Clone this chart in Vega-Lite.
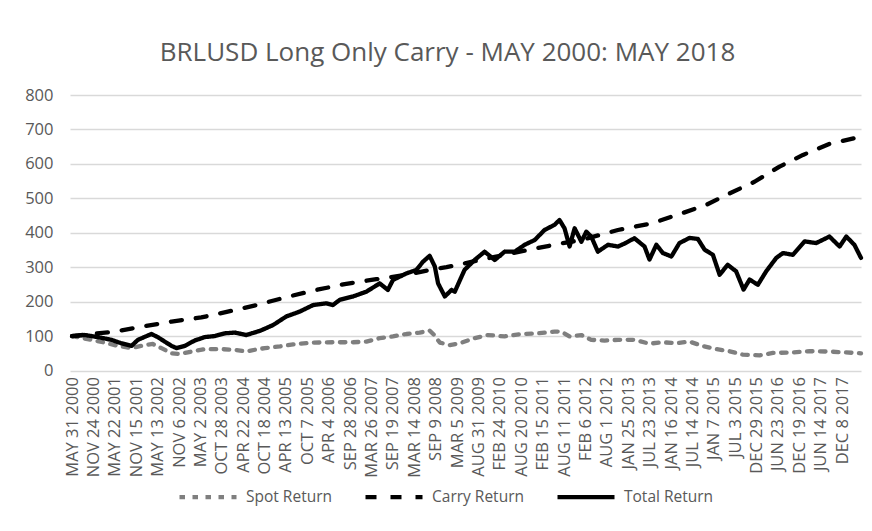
{
  "$schema": "https://vega.github.io/schema/vega-lite/v6.json",
  "width": 791,
  "height": 275.5,
  "autosize": "none",
  "padding": {"left": 70, "top": 95, "right": 11, "bottom": 160.5},
  "background": "white",
  "title": {"text": "BRLUSD Long Only Carry - MAY 2000: MAY 2018", "font": "Open Sans", "fontSize": 26, "fontWeight": "normal", "color": "#595959", "anchor": "middle", "frame": "group", "dx": -18, "offset": 21},
  "data": {"values": [
    {"d": "2000-05-31", "s": "Spot Return", "v": 100},
    {"d": "2000-11-10", "s": "Spot Return", "v": 89},
    {"d": "2001-02-28", "s": "Spot Return", "v": 81},
    {"d": "2001-06-15", "s": "Spot Return", "v": 71.5},
    {"d": "2001-10-07", "s": "Spot Return", "v": 65},
    {"d": "2002-01-27", "s": "Spot Return", "v": 74},
    {"d": "2002-04-02", "s": "Spot Return", "v": 77},
    {"d": "2002-06-13", "s": "Spot Return", "v": 65},
    {"d": "2002-09-05", "s": "Spot Return", "v": 50},
    {"d": "2002-11-13", "s": "Spot Return", "v": 48},
    {"d": "2003-02-19", "s": "Spot Return", "v": 55},
    {"d": "2003-06-08", "s": "Spot Return", "v": 62},
    {"d": "2003-10-25", "s": "Spot Return", "v": 62},
    {"d": "2004-02-13", "s": "Spot Return", "v": 60},
    {"d": "2004-05-19", "s": "Spot Return", "v": 55},
    {"d": "2004-08-22", "s": "Spot Return", "v": 62},
    {"d": "2004-10-20", "s": "Spot Return", "v": 65},
    {"d": "2005-02-22", "s": "Spot Return", "v": 70},
    {"d": "2005-06-11", "s": "Spot Return", "v": 76},
    {"d": "2005-11-24", "s": "Spot Return", "v": 81},
    {"d": "2006-05-08", "s": "Spot Return", "v": 82},
    {"d": "2006-10-22", "s": "Spot Return", "v": 82},
    {"d": "2007-02-11", "s": "Spot Return", "v": 84},
    {"d": "2007-06-01", "s": "Spot Return", "v": 94},
    {"d": "2007-09-19", "s": "Spot Return", "v": 99},
    {"d": "2008-01-09", "s": "Spot Return", "v": 106},
    {"d": "2008-04-28", "s": "Spot Return", "v": 110},
    {"d": "2008-07-20", "s": "Spot Return", "v": 116},
    {"d": "2008-09-01", "s": "Spot Return", "v": 101},
    {"d": "2008-10-12", "s": "Spot Return", "v": 81},
    {"d": "2009-01-04", "s": "Spot Return", "v": 74},
    {"d": "2009-03-26", "s": "Spot Return", "v": 79},
    {"d": "2009-07-29", "s": "Spot Return", "v": 94},
    {"d": "2009-11-17", "s": "Spot Return", "v": 103},
    {"d": "2010-04-04", "s": "Spot Return", "v": 99},
    {"d": "2010-08-21", "s": "Spot Return", "v": 106},
    {"d": "2011-01-07", "s": "Spot Return", "v": 108},
    {"d": "2011-05-24", "s": "Spot Return", "v": 113},
    {"d": "2011-07-18", "s": "Spot Return", "v": 113},
    {"d": "2011-09-26", "s": "Spot Return", "v": 99},
    {"d": "2012-01-02", "s": "Spot Return", "v": 103},
    {"d": "2012-03-24", "s": "Spot Return", "v": 89},
    {"d": "2012-07-13", "s": "Spot Return", "v": 87},
    {"d": "2012-11-01", "s": "Spot Return", "v": 89},
    {"d": "2013-03-18", "s": "Spot Return", "v": 89},
    {"d": "2013-07-21", "s": "Spot Return", "v": 78},
    {"d": "2013-11-10", "s": "Spot Return", "v": 82},
    {"d": "2014-03-01", "s": "Spot Return", "v": 79},
    {"d": "2014-06-19", "s": "Spot Return", "v": 84},
    {"d": "2014-10-08", "s": "Spot Return", "v": 71},
    {"d": "2015-01-28", "s": "Spot Return", "v": 62},
    {"d": "2015-05-16", "s": "Spot Return", "v": 56},
    {"d": "2015-09-05", "s": "Spot Return", "v": 46},
    {"d": "2016-01-22", "s": "Spot Return", "v": 44},
    {"d": "2016-05-11", "s": "Spot Return", "v": 51},
    {"d": "2016-09-28", "s": "Spot Return", "v": 52},
    {"d": "2017-03-12", "s": "Spot Return", "v": 56},
    {"d": "2017-08-25", "s": "Spot Return", "v": 55},
    {"d": "2017-12-14", "s": "Spot Return", "v": 53},
    {"d": "2018-05-14", "s": "Spot Return", "v": 50},
    {"d": "2000-05-31", "s": "Carry Return", "v": 100},
    {"d": "2001-05-20", "s": "Carry Return", "v": 113},
    {"d": "2001-12-30", "s": "Carry Return", "v": 127},
    {"d": "2002-09-05", "s": "Carry Return", "v": 142},
    {"d": "2003-05-10", "s": "Carry Return", "v": 154},
    {"d": "2003-12-16", "s": "Carry Return", "v": 171},
    {"d": "2004-08-11", "s": "Carry Return", "v": 190},
    {"d": "2005-04-16", "s": "Carry Return", "v": 213},
    {"d": "2005-12-22", "s": "Carry Return", "v": 234},
    {"d": "2006-08-14", "s": "Carry Return", "v": 251},
    {"d": "2007-05-04", "s": "Carry Return", "v": 265},
    {"d": "2008-01-09", "s": "Carry Return", "v": 278},
    {"d": "2008-07-20", "s": "Carry Return", "v": 292},
    {"d": "2008-12-07", "s": "Carry Return", "v": 300},
    {"d": "2009-03-26", "s": "Carry Return", "v": 308},
    {"d": "2010-01-12", "s": "Carry Return", "v": 330},
    {"d": "2010-11-12", "s": "Carry Return", "v": 352},
    {"d": "2011-07-18", "s": "Carry Return", "v": 369},
    {"d": "2012-01-02", "s": "Carry Return", "v": 379},
    {"d": "2012-11-01", "s": "Carry Return", "v": 408},
    {"d": "2013-08-05", "s": "Carry Return", "v": 427},
    {"d": "2014-03-27", "s": "Carry Return", "v": 454},
    {"d": "2014-11-05", "s": "Carry Return", "v": 481},
    {"d": "2015-05-16", "s": "Carry Return", "v": 514},
    {"d": "2015-12-11", "s": "Carry Return", "v": 548},
    {"d": "2016-07-06", "s": "Carry Return", "v": 592},
    {"d": "2017-01-17", "s": "Carry Return", "v": 626},
    {"d": "2017-08-25", "s": "Carry Return", "v": 658},
    {"d": "2018-05-14", "s": "Carry Return", "v": 679},
    {"d": "2000-05-31", "s": "Total Return", "v": 100},
    {"d": "2000-09-15", "s": "Total Return", "v": 103},
    {"d": "2001-01-01", "s": "Total Return", "v": 97},
    {"d": "2001-04-23", "s": "Total Return", "v": 89},
    {"d": "2001-07-15", "s": "Total Return", "v": 79},
    {"d": "2001-10-07", "s": "Total Return", "v": 71.5},
    {"d": "2001-11-29", "s": "Total Return", "v": 89},
    {"d": "2002-03-21", "s": "Total Return", "v": 106},
    {"d": "2002-05-13", "s": "Total Return", "v": 97},
    {"d": "2002-07-10", "s": "Total Return", "v": 84},
    {"d": "2002-09-05", "s": "Total Return", "v": 71.5},
    {"d": "2002-10-16", "s": "Total Return", "v": 65},
    {"d": "2002-12-24", "s": "Total Return", "v": 71.5},
    {"d": "2003-03-16", "s": "Total Return", "v": 87},
    {"d": "2003-06-08", "s": "Total Return", "v": 97},
    {"d": "2003-08-30", "s": "Total Return", "v": 100},
    {"d": "2003-11-21", "s": "Total Return", "v": 108},
    {"d": "2004-02-13", "s": "Total Return", "v": 110},
    {"d": "2004-05-19", "s": "Total Return", "v": 103},
    {"d": "2004-09-08", "s": "Total Return", "v": 115},
    {"d": "2004-12-27", "s": "Total Return", "v": 132},
    {"d": "2005-04-16", "s": "Total Return", "v": 157},
    {"d": "2005-08-05", "s": "Total Return", "v": 171},
    {"d": "2005-11-24", "s": "Total Return", "v": 190},
    {"d": "2006-03-14", "s": "Total Return", "v": 195},
    {"d": "2006-05-08", "s": "Total Return", "v": 190},
    {"d": "2006-07-03", "s": "Total Return", "v": 205},
    {"d": "2006-10-22", "s": "Total Return", "v": 215},
    {"d": "2007-02-11", "s": "Total Return", "v": 229},
    {"d": "2007-06-01", "s": "Total Return", "v": 253},
    {"d": "2007-08-08", "s": "Total Return", "v": 234},
    {"d": "2007-09-19", "s": "Total Return", "v": 263},
    {"d": "2008-01-09", "s": "Total Return", "v": 282},
    {"d": "2008-04-01", "s": "Total Return", "v": 292},
    {"d": "2008-05-26", "s": "Total Return", "v": 316},
    {"d": "2008-07-20", "s": "Total Return", "v": 333},
    {"d": "2008-09-01", "s": "Total Return", "v": 302},
    {"d": "2008-09-28", "s": "Total Return", "v": 253},
    {"d": "2008-11-23", "s": "Total Return", "v": 215},
    {"d": "2009-01-18", "s": "Total Return", "v": 234},
    {"d": "2009-02-14", "s": "Total Return", "v": 229},
    {"d": "2009-05-06", "s": "Total Return", "v": 292},
    {"d": "2009-07-29", "s": "Total Return", "v": 321},
    {"d": "2009-10-20", "s": "Total Return", "v": 345},
    {"d": "2010-01-12", "s": "Total Return", "v": 321},
    {"d": "2010-04-04", "s": "Total Return", "v": 345},
    {"d": "2010-06-26", "s": "Total Return", "v": 345},
    {"d": "2010-09-18", "s": "Total Return", "v": 365},
    {"d": "2010-12-10", "s": "Total Return", "v": 379},
    {"d": "2011-03-02", "s": "Total Return", "v": 408},
    {"d": "2011-05-24", "s": "Total Return", "v": 423},
    {"d": "2011-07-04", "s": "Total Return", "v": 437},
    {"d": "2011-08-15", "s": "Total Return", "v": 413},
    {"d": "2011-09-26", "s": "Total Return", "v": 360},
    {"d": "2011-11-07", "s": "Total Return", "v": 413},
    {"d": "2012-01-02", "s": "Total Return", "v": 374},
    {"d": "2012-02-12", "s": "Total Return", "v": 403},
    {"d": "2012-03-24", "s": "Total Return", "v": 389},
    {"d": "2012-05-18", "s": "Total Return", "v": 345},
    {"d": "2012-08-10", "s": "Total Return", "v": 365},
    {"d": "2012-11-01", "s": "Total Return", "v": 360},
    {"d": "2012-12-27", "s": "Total Return", "v": 369},
    {"d": "2013-03-18", "s": "Total Return", "v": 384},
    {"d": "2013-06-10", "s": "Total Return", "v": 360},
    {"d": "2013-07-21", "s": "Total Return", "v": 322},
    {"d": "2013-09-16", "s": "Total Return", "v": 365},
    {"d": "2013-11-10", "s": "Total Return", "v": 341},
    {"d": "2014-01-19", "s": "Total Return", "v": 331},
    {"d": "2014-03-27", "s": "Total Return", "v": 370},
    {"d": "2014-06-19", "s": "Total Return", "v": 385},
    {"d": "2014-08-27", "s": "Total Return", "v": 382},
    {"d": "2014-10-22", "s": "Total Return", "v": 351},
    {"d": "2014-12-30", "s": "Total Return", "v": 336},
    {"d": "2015-02-24", "s": "Total Return", "v": 278},
    {"d": "2015-05-02", "s": "Total Return", "v": 307},
    {"d": "2015-07-11", "s": "Total Return", "v": 288},
    {"d": "2015-09-11", "s": "Total Return", "v": 235},
    {"d": "2015-10-31", "s": "Total Return", "v": 264},
    {"d": "2016-01-08", "s": "Total Return", "v": 249},
    {"d": "2016-03-17", "s": "Total Return", "v": 288},
    {"d": "2016-06-09", "s": "Total Return", "v": 327},
    {"d": "2016-08-03", "s": "Total Return", "v": 341},
    {"d": "2016-10-25", "s": "Total Return", "v": 336},
    {"d": "2017-01-30", "s": "Total Return", "v": 375},
    {"d": "2017-05-06", "s": "Total Return", "v": 370},
    {"d": "2017-08-25", "s": "Total Return", "v": 389},
    {"d": "2017-11-17", "s": "Total Return", "v": 360},
    {"d": "2018-01-12", "s": "Total Return", "v": 389},
    {"d": "2018-03-20", "s": "Total Return", "v": 365},
    {"d": "2018-05-14", "s": "Total Return", "v": 327}
  ]},
  "mark": {"type": "line", "strokeWidth": 4.3, "strokeCap": "round", "strokeJoin": "round"},
  "encoding": {
    "x": {
      "field": "d", "type": "temporal",
      "scale": {"type": "utc", "domain": [{"year": 2000, "month": 5, "date": 14, "utc": true}, {"year": 2018, "month": 5, "date": 14, "utc": true}]},
      "axis": {
        "title": null,
        "values": [
          {"year": 2000, "month": 5, "date": 31, "utc": true},
          {"year": 2000, "month": 11, "date": 24, "utc": true},
          {"year": 2001, "month": 5, "date": 22, "utc": true},
          {"year": 2001, "month": 11, "date": 15, "utc": true},
          {"year": 2002, "month": 5, "date": 13, "utc": true},
          {"year": 2002, "month": 11, "date": 6, "utc": true},
          {"year": 2003, "month": 5, "date": 2, "utc": true},
          {"year": 2003, "month": 10, "date": 28, "utc": true},
          {"year": 2004, "month": 4, "date": 22, "utc": true},
          {"year": 2004, "month": 10, "date": 18, "utc": true},
          {"year": 2005, "month": 4, "date": 13, "utc": true},
          {"year": 2005, "month": 10, "date": 7, "utc": true},
          {"year": 2006, "month": 4, "date": 4, "utc": true},
          {"year": 2006, "month": 9, "date": 28, "utc": true},
          {"year": 2007, "month": 3, "date": 26, "utc": true},
          {"year": 2007, "month": 9, "date": 19, "utc": true},
          {"year": 2008, "month": 3, "date": 14, "utc": true},
          {"year": 2008, "month": 9, "date": 9, "utc": true},
          {"year": 2009, "month": 3, "date": 5, "utc": true},
          {"year": 2009, "month": 8, "date": 31, "utc": true},
          {"year": 2010, "month": 2, "date": 24, "utc": true},
          {"year": 2010, "month": 8, "date": 20, "utc": true},
          {"year": 2011, "month": 2, "date": 15, "utc": true},
          {"year": 2011, "month": 8, "date": 11, "utc": true},
          {"year": 2012, "month": 2, "date": 6, "utc": true},
          {"year": 2012, "month": 8, "date": 1, "utc": true},
          {"year": 2013, "month": 1, "date": 25, "utc": true},
          {"year": 2013, "month": 7, "date": 23, "utc": true},
          {"year": 2014, "month": 1, "date": 16, "utc": true},
          {"year": 2014, "month": 7, "date": 14, "utc": true},
          {"year": 2015, "month": 1, "date": 7, "utc": true},
          {"year": 2015, "month": 7, "date": 3, "utc": true},
          {"year": 2015, "month": 12, "date": 29, "utc": true},
          {"year": 2016, "month": 6, "date": 23, "utc": true},
          {"year": 2016, "month": 12, "date": 19, "utc": true},
          {"year": 2017, "month": 6, "date": 14, "utc": true},
          {"year": 2017, "month": 12, "date": 8, "utc": true}
        ],
        "labelExpr": "upper(utcFormat(datum.value, '%b %-d %Y'))",
        "labelAngle": 270,
        "labelFont": "Open Sans", "labelFontSize": 16.5, "labelColor": "#595959",
        "ticks": false, "domain": false, "grid": false,
        "labelPadding": 6, "labelOverlap": false, "labelBound": false, "labelFlush": false
      }
    },
    "y": {
      "field": "v", "type": "quantitative",
      "scale": {"domain": [0, 800]},
      "axis": {
        "title": null, "values": [0, 100, 200, 300, 400, 500, 600, 700, 800],
        "labelFont": "Open Sans", "labelFontSize": 16.5, "labelColor": "#595959",
        "ticks": false, "domain": false, "grid": true, "gridColor": "#d9d9d9", "gridWidth": 1.3,
        "labelPadding": 17
      }
    },
    "color": {
      "field": "s", "type": "nominal",
      "scale": {"domain": ["Spot Return", "Carry Return", "Total Return"], "range": ["#7f7f7f", "#000000", "#000000"]},
      "legend": {"title": null, "orient": "none", "legendX": 107, "legendY": 371, "direction": "horizontal", "symbolType": "stroke", "symbolSize": 3249, "symbolStrokeWidth": 4.3, "labelFont": "Open Sans", "labelFontSize": 15.5, "labelColor": "#595959", "columnPadding": 24, "labelOffset": 7}
    },
    "strokeDash": {
      "field": "s", "type": "nominal",
      "scale": {"domain": ["Spot Return", "Carry Return", "Total Return"], "range": [[5.5, 7.5], [11, 14], [1, 0]]},
      "legend": {"title": null, "orient": "none", "legendX": 107, "legendY": 371, "direction": "horizontal", "symbolType": "stroke", "symbolSize": 3249, "symbolStrokeWidth": 4.3, "labelFont": "Open Sans", "labelFontSize": 15.5, "labelColor": "#595959", "columnPadding": 24, "labelOffset": 7}
    }
  },
  "config": {"view": {"stroke": null}, "font": "Open Sans"}
}
